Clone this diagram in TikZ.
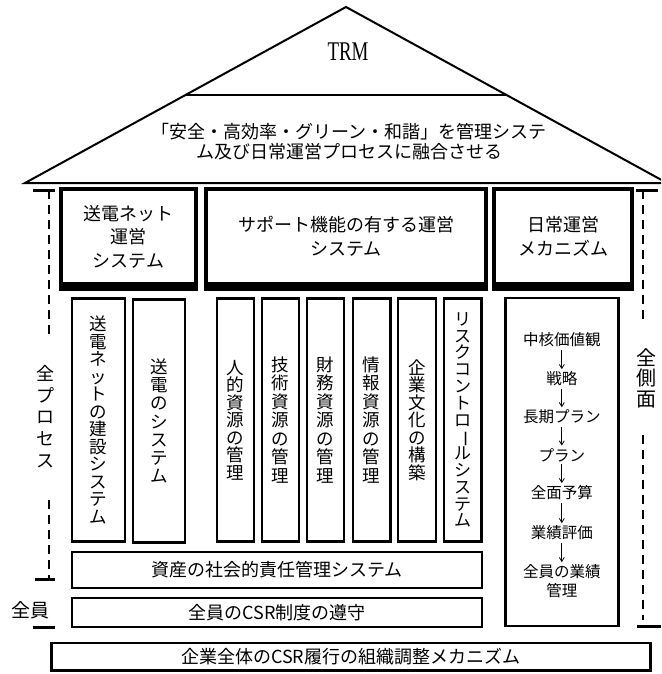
\documentclass[tikz,border=0pt]{standalone}
\usepackage{fontspec}
\setmainfont{Noto Sans CJK JP}
\newfontfamily\latinserif{Liberation Serif}
\usetikzlibrary{arrows.meta}
\newcommand{\vbar}{\rotatebox[origin=c]{-90}{ー}}
\newcommand{\tightlines}{\lineskiplimit=-50pt\relax}
\newcommand{\fs}[2]{\fontsize{#1}{#2}\selectfont\tightlines}
% vertical stack of characters with a fixed pitch
\newcommand{\vstack}[2]{\vbox{\baselineskip=#1pt\lineskiplimit=-50pt\lineskip=0pt%
  \halign{\hfil##\hfil\cr#2\crcr}}}
\tikzset{
  roofline/.style={line width=2pt, line join=miter},
  headbox/.style={draw, line width=4pt, outer sep=0pt, inner sep=0pt, align=center,
    font={\fs{18}{23.5}}},
  colbox/.style={draw, line width=2.5pt, outer sep=0pt, inner sep=0pt,
    font={\fs{17.5}{18}}},
  rowbox/.style={draw, line width=2.5pt, outer sep=0pt, inner sep=0pt,
    font={\fs{18}{20}}},
  flowtxt/.style={inner sep=2.5pt, align=center, font={\fs{15.5}{19}}},
  flowarrow/.style={-{Straight Barb[length=4pt,width=5pt]}, line width=0.8pt},
  sidelabel/.style={inner sep=0pt},
  sidedash/.style={line width=2pt, dash pattern=on 9pt off 6pt},
  sidebar/.style={line width=3pt},
}
\begin{document}
\begin{tikzpicture}[x=1pt,y=-1pt]
\useasboundingbox (0,0) rectangle (661,674);
\clip (0,0) rectangle (661,674);
% roof
\draw[roofline] (25,183) -- (346,7) -- (667,183) -- cycle;
\draw[roofline] (185.5,95) -- (506.5,95);
\node[inner sep=0pt, font={\latinserif\fontsize{27}{27}\selectfont}] (trm) at (348,52) {\scalebox{0.7}[1]{TRM}};
\node[inner sep=0pt, align=center, font={\fs{18}{20}}] (goal) at (349,142)
  {「安全・高効率・グリーン・和諧」を管理システ\\ム及び日常運営プロセスに融合させる};
% header boxes
\node[headbox, minimum width=135pt, minimum height=95pt] (hA) at (128.5,236.5) {送電ネット\\運営\\システム};
\node[headbox, minimum width=280pt, minimum height=95pt] (hB) at (346,236.5) {サポート機能の有する運営\\システム};
\node[headbox, minimum width=138pt, minimum height=95pt] (hC) at (563,236.5) {日常運営\\メカニズム};
\foreach \b in {hA,hB,hC}
  \fill ([xshift=-2pt]\b.south west) rectangle ([xshift=2pt,yshift=-7pt]\b.south east);
% columns
\node[colbox, minimum width=52.8pt, minimum height=243pt] (c1) at (98.4,420)
  {\vstack{17.5}{送\cr 電\cr ネ\cr ッ\cr ト\cr の\cr 建\cr 設\cr シ\cr ス\cr テ\cr ム}};
\node[colbox, minimum width=51.7pt, minimum height=243pt] (c2) at (158.9,421)
  {\vstack{18.2}{送\cr 電\cr の\cr シ\cr ス\cr テ\cr ム}};
\node[colbox, minimum width=36.6pt, minimum height=243pt] (c3) at (235.5,420)
  {\vstack{17.5}{人\cr 的\cr 資\cr 源\cr の\cr 管\cr 理}};
\node[colbox, minimum width=36.8pt, minimum height=243pt] (c4) at (280.4,420)
  {\vstack{18.5}{技\cr 術\cr 資\cr 源\cr の\cr 管\cr 理}};
\node[colbox, minimum width=36.6pt, minimum height=243pt] (c5) at (325.5,420)
  {\vstack{18.5}{財\cr 務\cr 資\cr 源\cr の\cr 管\cr 理}};
\node[colbox, minimum width=37.5pt, minimum height=243pt] (c6) at (371.7,420)
  {\vstack{18.5}{情\cr 報\cr 資\cr 源\cr の\cr 管\cr 理}};
\node[colbox, minimum width=38pt, minimum height=243pt] (c7) at (417,420)
  {\vstack{17.5}{企\cr 業\cr 文\cr 化\cr の\cr 構\cr 築}};
\node[colbox, minimum width=37.5pt, minimum height=243pt, font={\fs{17}{17}}] (c8) at (462.7,420)
  {\vstack{16.8}{リ\cr ス\cr ク\cr コ\cr ン\cr ト\cr ロ\cr \vbar\cr ル\cr シ\cr ス\cr テ\cr ム}};
% flow column
\node[colbox, minimum width=113pt, minimum height=327.7pt] (c9) at (561.8,462) {};
\node[flowtxt] (f1) at (561.8,340) {中核価値観};
\node[flowtxt] (f2) at (561.8,379) {戦略};
\node[flowtxt] (f3) at (561.8,417) {長期プラン};
\node[flowtxt] (f4) at (561.8,455) {プラン};
\node[flowtxt] (f5) at (561.8,493) {全面予算};
\node[flowtxt] (f6) at (561.8,533) {業績評価};
\node[flowtxt] (f7) at (561.8,581.5) {全員の業績\\管理};
\foreach \a/\b in {f1/f2,f2/f3,f3/f4,f4/f5,f5/f6,f6/f7}
  \draw[flowarrow] (\a) -- (\b);
% rows
\node[rowbox, minimum width=410pt, minimum height=36pt] (r1) at (277,570) {資産の社会的責任管理システム};
\node[rowbox, minimum width=410pt, minimum height=29pt] (r2) at (277,612.5) {全員のCSR制度の遵守};
\node[rowbox, minimum width=599pt, minimum height=27.7pt] (r3) at (350.8,656.8) {企業全体のCSR履行の組織調整メカニズム};
% left side
\draw[sidebar] (33,190) -- (55,190);
\node[sidelabel, font={\fs{18}{18}}] (lp) at (45,416.5) {\vstack{21.7}{全\cr プ\cr ロ\cr セ\cr ス}};
\coordinate (lt) at (49,190);
\coordinate (lu) at (49,335);
\coordinate (ll) at (49,500);
\coordinate (lb) at (49,579);
\draw[sidedash] (lt) -- (lu);
\draw[sidedash] (ll) -- (lb);
\draw[sidebar] (35,579) -- (55,579);
\node[inner sep=0pt, font={\fs{19}{19}}] (all) at (30,610) {全員};
\draw[sidebar] (33,627) -- (55,627);
% right side
\draw[sidebar] (636,190) -- (658,190);
\node[sidelabel, font={\fs{20}{20}}] (rs) at (646,378) {\vstack{20.5}{全\cr 側\cr 面}};
\coordinate (rt) at (643,190);
\coordinate (ru) at (643,320);
\coordinate (rl) at (643,435);
\coordinate (rb) at (643,620);
\draw[sidedash] (rt) -- (ru);
\draw[sidedash] (rl) -- (rb);
\draw[sidebar] (637,626) -- (661,626);
\end{tikzpicture}
\end{document}
